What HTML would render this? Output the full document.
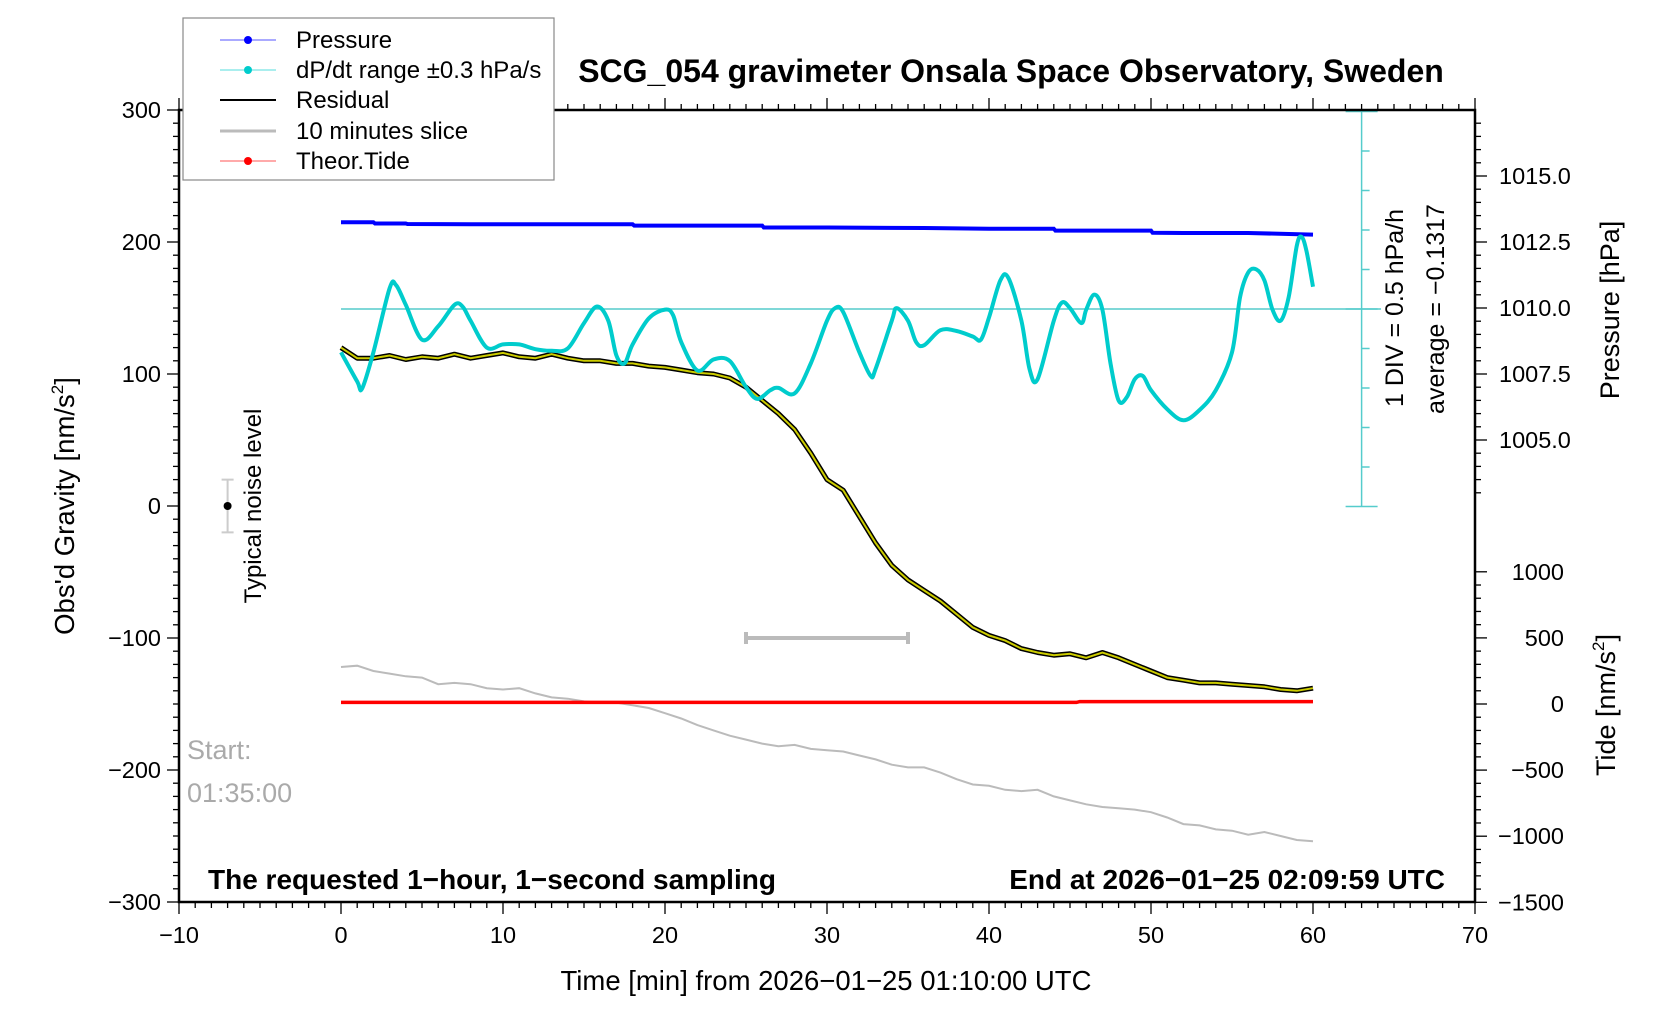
<!DOCTYPE html>
<html><head><meta charset="utf-8"><style>
html,body{margin:0;padding:0;background:#fff}
svg{display:block;font-family:"Liberation Sans",sans-serif}
</style></head><body>
<svg id="chart" width="1676" height="1020" viewBox="0 0 1676 1020" xmlns="http://www.w3.org/2000/svg">
<g id="marks"></g>
<g id="axes"></g>
<g id="labels">
<text x="1011" y="82" font-size="32" font-weight="bold" text-anchor="middle">SCG_054 gravimeter Onsala Space Observatory, Sweden</text>
<text x="826" y="990" font-size="27.5" text-anchor="middle">Time [min] from 2026−01−25 01:10:00 UTC</text>
<text transform="translate(74,506) rotate(-90)" font-size="27.5" text-anchor="middle">Obs'd Gravity [nm/s<tspan font-size="17" dy="-11">2</tspan><tspan dy="11">]</tspan></text>
<text transform="translate(1619,310) rotate(-90)" font-size="27" text-anchor="middle">Pressure [hPa]</text>
<text transform="translate(1615,705) rotate(-90)" font-size="27" text-anchor="middle">Tide [nm/s<tspan font-size="17" dy="-11">2</tspan><tspan dy="11">]</tspan></text>
<text transform="translate(1403,308) rotate(-90)" font-size="25" text-anchor="middle">1 DIV = 0.5 hPa/h</text>
<text transform="translate(1444,309) rotate(-90)" font-size="25" text-anchor="middle">average = −0.1317</text>
<text transform="translate(261,506) rotate(-90)" font-size="24" text-anchor="middle">Typical noise level</text>
<text x="187" y="759" font-size="27" fill="#aaa">Start:</text>
<text x="187" y="802" font-size="27" fill="#aaa">01:35:00</text>
<text x="208" y="889" font-size="28" font-weight="bold">The requested 1−hour, 1−second sampling</text>
<text x="1445" y="889" font-size="28" font-weight="bold" text-anchor="end">End at 2026−01−25 02:09:59 UTC</text>
</g>
<g id="legend">
<rect x="183" y="18" width="371" height="162" fill="#fff" stroke="#888" stroke-width="1.2"/>
<g><line x1="220" y1="40" x2="276" y2="40" stroke="#55f" stroke-width="1"/><circle cx="248" cy="40" r="4" fill="#00f"/><text x="296" y="48" font-size="24">Pressure</text></g>
<g><line x1="220" y1="70" x2="276" y2="70" stroke="#5dd" stroke-width="1"/><circle cx="248" cy="70" r="4" fill="#0cc"/><text x="296" y="78" font-size="24">dP/dt range ±0.3 hPa/s</text></g>
<g><line x1="220" y1="100" x2="276" y2="100" stroke="#000" stroke-width="2"/><text x="296" y="108" font-size="24">Residual</text></g>
<g><line x1="220" y1="131" x2="276" y2="131" stroke="#bbb" stroke-width="3"/><text x="296" y="139" font-size="24">10 minutes slice</text></g>
<g><line x1="220" y1="161" x2="276" y2="161" stroke="#f55" stroke-width="1"/><circle cx="248" cy="161" r="4" fill="#f00"/><text x="296" y="169" font-size="24">Theor.Tide</text></g>
</g>
</svg>
<script>
// ---- data ----
const pressureTimes = [0,2,2.1,4,4.1,8,12,18,18.1,20,26,26.1,30,36,40,44,44.1,46,50,50.1,52,56,60];
const pressureValues = [1013.25,1013.25,1013.2,1013.2,1013.18,1013.17,1013.17,1013.17,1013.12,1013.12,1013.12,1013.05,1013.05,1013.03,1013.0,1013.0,1012.93,1012.93,1012.93,1012.85,1012.84,1012.84,1012.78];
const dpdtTimes = [0,1,1.3,2,3,3.4,4,5,6,7,7.5,8,9,10,11,12,13,14,15,15.8,16.5,17,17.5,18,19,20,20.5,21,22,23,24,25,25.7,26.5,27,28,29,30,30.5,31,32,32.7,33,34,34.3,35,35.5,36,37,38,39,39.5,40,40.7,41.2,42,42.5,43,44,44.5,45,45.7,46,46.5,47,47.5,48,48.5,49,49.5,50,51,52,53,54,55,55.5,56,56.5,57,57.5,58,58.5,59,59.3,59.6,60];
const dpdtValues = [-0.68,-1.05,-1.14,-0.68,0.13,0.17,-0.08,-0.52,-0.35,-0.08,-0.10,-0.28,-0.62,-0.58,-0.58,-0.64,-0.66,-0.63,-0.31,-0.10,-0.28,-0.72,-0.82,-0.58,-0.25,-0.14,-0.21,-0.55,-0.91,-0.77,-0.79,-1.12,-1.27,-1.16,-1.13,-1.20,-0.82,-0.28,-0.12,-0.17,-0.68,-0.98,-0.89,-0.28,-0.12,-0.28,-0.55,-0.59,-0.40,-0.41,-0.48,-0.52,-0.24,0.23,0.26,-0.28,-0.89,-1.02,-0.28,-0.05,-0.12,-0.31,-0.14,0.05,-0.14,-0.82,-1.29,-1.25,-1.02,-0.98,-1.16,-1.40,-1.54,-1.41,-1.16,-0.68,0.02,0.33,0.37,0.23,-0.14,-0.28,0.02,0.67,0.78,0.60,0.15];
const dpdtAverage = -0.1317;
const residualTimes = [0,1,2,3,4,5,6,7,8,9,10,11,12,13,14,15,16,17,18,19,20,21,22,23,24,25,26,27,28,29,30,31,32,33,34,35,36,37,38,39,40,41,42,43,44,45,46,47,48,49,50,51,52,53,54,55,56,57,58,59,60];
const residualValues = [120,112,112,114,111,113,112,115,112,114,116,113,112,115,112,110,110,108,108,106,105,103,101,100,97,90,80,70,58,40,20,12,-8,-28,-45,-56,-64,-72,-82,-92,-98,-102,-108,-111,-113,-112,-115,-111,-115,-120,-125,-130,-132,-134,-134,-135,-136,-137,-139,-140,-138];
const sliceTimes = [0,1,2,3,4,5,6,7,8,9,10,11,12,13,14,15,16,17,18,19,20,21,22,23,24,25,26,27,28,29,30,31,32,33,34,35,36,37,38,39,40,41,42,43,44,45,46,47,48,49,50,51,52,53,54,55,56,57,58,59,60];
const sliceValues = [-122,-121,-125,-127,-129,-130,-135,-134,-135,-138,-139,-138,-142,-145,-146,-148,-149,-149,-151,-153,-157,-161,-166,-170,-174,-177,-180,-182,-181,-184,-185,-186,-189,-192,-196,-198,-198,-202,-207,-211,-212,-215,-216,-215,-220,-223,-226,-228,-229,-230,-232,-236,-241,-242,-245,-246,-249,-247,-250,-253,-254];
const tideTimes = [0,45.4,45.6,60];
const tideValues = [12,12,18,18];
const gravityTicks = [-300,-200,-100,0,100,200,300];
const timeTicks = [-10,0,10,20,30,40,50,60,70];
const pressureTicks = [1005.0,1007.5,1010.0,1012.5,1015.0];
const tideTicks = [-1500,-1000,-500,0,500,1000];
const sliceBar = [25,35,-100];
const noiseBar = [-7,0,20];

// ---- axes functions ----
const X0=179,X1=1475,Y0=110,Y1=902;
const xs = t => X0 + (t+10)/80*(X1-X0);
const yg = g => Y1 - (g+300)/600*(Y1-Y0);
const yp = p => 308 - (p-1010)*26.4;
const yt = v => 704 - v*0.1322;
const yd = v => 309 - (v-dpdtAverage)*79;

const NS='http://www.w3.org/2000/svg';
const marks=document.getElementById('marks'), axes=document.getElementById('axes');
function mk(tag,attrs,parent){const e=document.createElementNS(NS,tag);for(const k in attrs)e.setAttribute(k,attrs[k]);parent.appendChild(e);return e;}
function pathOf(ts,vs,fy){return ts.map((t,i)=>(i?'L':'M')+xs(t).toFixed(1)+','+fy(vs[i]).toFixed(1)).join(' ');}
function smoothPath(ts,vs,fy){
  const P=ts.map((t,i)=>[xs(t),fy(vs[i])]);let d='M'+P[0][0]+','+P[0][1];
  for(let i=0;i<P.length-1;i++){const p0=P[i-1]||P[i],p1=P[i],p2=P[i+1],p3=P[i+2]||p2;
    d+=' C'+(p1[0]+(p2[0]-p0[0])/6)+','+(p1[1]+(p2[1]-p0[1])/6)+' '+(p2[0]-(p3[0]-p1[0])/6)+','+(p2[1]-(p3[1]-p1[1])/6)+' '+p2[0]+','+p2[1];}
  return d;}

let e;
e=mk('line',{x1:xs(0),y1:yd(dpdtAverage),x2:xs(64.2),y2:yd(dpdtAverage),stroke:'#5cc',"stroke-width":1.5},marks);


e=mk('line',{x1:xs(63),y1:Y0,x2:xs(63),y2:yd(dpdtAverage-2.5),stroke:'#5cc',"stroke-width":1.5},marks);


for(let k=-5;k<=5;k++){const y=yd(dpdtAverage+k*0.5);const w=(k===5||k===-5||k===0)?16:8;
  mk('line',{x1:xs(63)-(w===16?16:0),y1:y,x2:xs(63)+w,y2:y,stroke:'#5cc',"stroke-width":1.5},marks);}

e=mk('path',{d:pathOf(sliceTimes,sliceValues,yg),fill:'none',stroke:'#bbb',"stroke-width":2},marks);


e=mk('path',{d:pathOf(tideTimes,tideValues,yt),fill:'none',stroke:'#f00',"stroke-width":3.5},marks);


e=mk('path',{d:pathOf(residualTimes,residualValues,yg),fill:'none',stroke:'#000',"stroke-width":5,"stroke-linejoin":"round"},marks);


e=mk('path',{d:pathOf(residualTimes,residualValues,yg),fill:'none',stroke:'#cc0',"stroke-width":2},marks);


e=mk('path',{d:pathOf(pressureTimes,pressureValues,yp),fill:'none',stroke:'#00f',"stroke-width":4},marks);


e=mk('path',{d:smoothPath(dpdtTimes,dpdtValues,yd),fill:'none',stroke:'#0cc',"stroke-width":4},marks);


e=mk('path',{d:`M${xs(sliceBar[0])},${yg(sliceBar[2])}H${xs(sliceBar[1])}M${xs(sliceBar[0])},${yg(sliceBar[2])-6}v12M${xs(sliceBar[1])},${yg(sliceBar[2])-6}v12`,stroke:'#bbb',"stroke-width":4,fill:'none'},marks);


e=mk('path',{d:`M${xs(noiseBar[0])},${yg(noiseBar[2])}V${yg(-noiseBar[2])}M${xs(noiseBar[0])-6},${yg(noiseBar[2])}h12M${xs(noiseBar[0])-6},${yg(-noiseBar[2])}h12`,stroke:'#ccc',"stroke-width":2,fill:'none'},marks);


e=mk('circle',{cx:xs(noiseBar[0]),cy:yg(noiseBar[1]),r:4,fill:'#000'},marks);



e=mk('rect',{x:X0,y:Y0,width:X1-X0,height:Y1-Y0,fill:'none',stroke:'#000',"stroke-width":2.5},axes);


for(let t=-10;t<=70;t++){const x=xs(t);const big=t%10===0;
  mk('line',{x1:x,y1:Y1,x2:x,y2:Y1+(big?12:6),stroke:'#000',"stroke-width":1.3},axes);
  mk('line',{x1:x,y1:Y0,x2:x,y2:Y0-(big?12:6),stroke:'#000',"stroke-width":1.3},axes);}
timeTicks.forEach(t=>{e=mk('text',{x:xs(t),y:943,"font-size":23.5,"text-anchor":"middle"},axes);e.textContent=String(t).replace('-','−');
  
  });
for(let g=-300;g<=300;g+=10){const y=yg(g);mk('line',{x1:X0,y1:y,x2:X0-(g%100===0?12:6),y2:y,stroke:'#000',"stroke-width":1.3},axes);}
gravityTicks.forEach(g=>{e=mk('text',{x:X0-18,y:yg(g)+8,"font-size":23.5,"text-anchor":"end"},axes);e.textContent=String(g).replace('-','−');
  
  });
for(let p=1003;p<=1017;p+=0.5){const y=yp(p);if(y<Y0+4||y>yt(1000)-20)continue;const big=Math.abs(p/2.5-Math.round(p/2.5))<1e-6;
  mk('line',{x1:X1,y1:y,x2:X1+(big?12:6),y2:y,stroke:'#000',"stroke-width":1.3},axes);}
pressureTicks.forEach(p=>{e=mk('text',{x:1499,y:yp(p)+8,"font-size":23.5},axes);e.textContent=p.toFixed(1);
  
  });
for(let v=-1500;v<=1000;v+=100){const y=yt(v);mk('line',{x1:X1,y1:y,x2:X1+(v%500===0?12:6),y2:y,stroke:'#000',"stroke-width":1.3},axes);}
tideTicks.forEach(v=>{e=mk('text',{x:1564,y:yt(v)+8,"font-size":23.5,"text-anchor":"end"},axes);e.textContent=String(v).replace('-','−');
  
  });
</script>
</body></html>
